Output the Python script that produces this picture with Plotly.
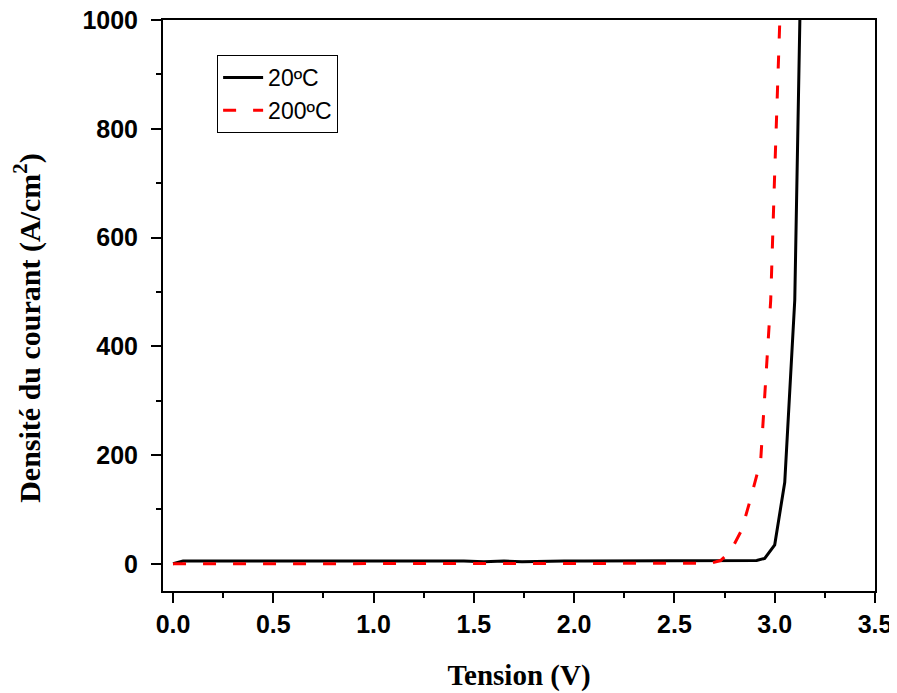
import plotly.graph_objects as go

# 20 °C curve
v20 = [0.0, 0.05, 0.1, 0.2, 0.3, 0.4, 0.5, 0.6, 0.7, 0.8, 0.9, 1.0, 1.1, 1.2, 1.3, 1.36,
       1.45, 1.55, 1.65, 1.74, 1.85, 1.95, 2.05, 2.15, 2.25, 2.35, 2.45, 2.55, 2.65,
       2.75, 2.85, 2.91, 2.95, 3.0, 3.05, 3.1, 3.15]
j20 = [0, 5, 5, 5, 5, 5, 5, 5, 5, 5, 5, 5, 5, 5, 5, 6,
       5, 4, 5, 4, 5, 5, 5, 5, 5, 5, 5, 5, 5,
       5, 5, 6, 10, 35, 150, 485, 1500]

# 200 °C curve
v200 = [0.0, 0.2, 0.4, 0.6, 0.8, 1.0, 1.2, 1.4, 1.6, 1.8, 2.0, 2.2, 2.4, 2.6, 2.68,
        2.73, 2.78, 2.835, 2.88, 2.93, 2.95, 2.98, 3.0, 3.03]
j200 = [0, 0, 0, 0, 0, 0, 0, 0, 0, 0, 0, 0, 0, 0, 1,
        6, 23, 62, 120, 190, 300, 485, 720, 1050]

x_ticks = [0.0, 0.5, 1.0, 1.5, 2.0, 2.5, 3.0, 3.5]
x_ticktext = ["0.0", "0.5", "1.0", "1.5", "2.0", "2.5", "3.0", "3.5"]
y_ticks = [0, 200, 400, 600, 800, 1000]

fig = go.Figure()
fig.add_trace(go.Scatter(x=v20, y=j20, mode="lines", name="20ºC",
                         line=dict(color="black", width=3)))
fig.add_trace(go.Scatter(x=v200, y=j200, mode="lines", name="200ºC",
                         line=dict(color="#ff0000", width=3, dash="13px,17px")))

axis_common = dict(
    showgrid=False, zeroline=False, showline=True, linecolor="black", linewidth=2,
    mirror=True, ticks="outside", ticklen=10, tickwidth=2, tickcolor="black",
    automargin=False, ticklabeloverflow="allow",
    tickfont=dict(family="Liberation Sans, Arial", size=25, color="black", weight="bold"),
)

fig.update_xaxes(range=[-0.05, 3.5], tickvals=x_ticks, ticktext=x_ticktext,
                 minor=dict(ticks="outside", ticklen=5, tickwidth=2, tickcolor="black", dtick=0.25),
                 title=dict(text="<b>Tension (V)</b>",
                            font=dict(family="Liberation Serif, Times New Roman", size=29, color="black"),
                            standoff=28),
                 **axis_common)
fig.update_yaxes(range=[-50, 1000], tickvals=y_ticks, ticklabelstandoff=8,
                 minor=dict(ticks="outside", ticklen=5, tickwidth=2, tickcolor="black", dtick=100),
                 title=dict(text="<b>Densité du courant (A/cm<sup>2</sup>)\u00a0\u00a0\u00a0\u00a0\u00a0\u00a0</b>",
                            font=dict(family="Liberation Serif, Times New Roman", size=30, color="black"),
                            standoff=49),
                 **axis_common)

# page body has an 8px margin, so the figure is drawn slightly smaller
fig.update_layout(
    width=889, height=685,
    margin=dict(l=155, r=22, t=12, b=102),
    plot_bgcolor="white", paper_bgcolor="white",
    legend=dict(x=0.076, y=0.9387, xanchor="left", yanchor="top",
                bordercolor="black", borderwidth=1, bgcolor="white",
                font=dict(family="Liberation Sans, Arial", size=23, color="black"),
                tracegroupgap=0, itemwidth=40),
    showlegend=True,
)

fig.write_html("out.html")
